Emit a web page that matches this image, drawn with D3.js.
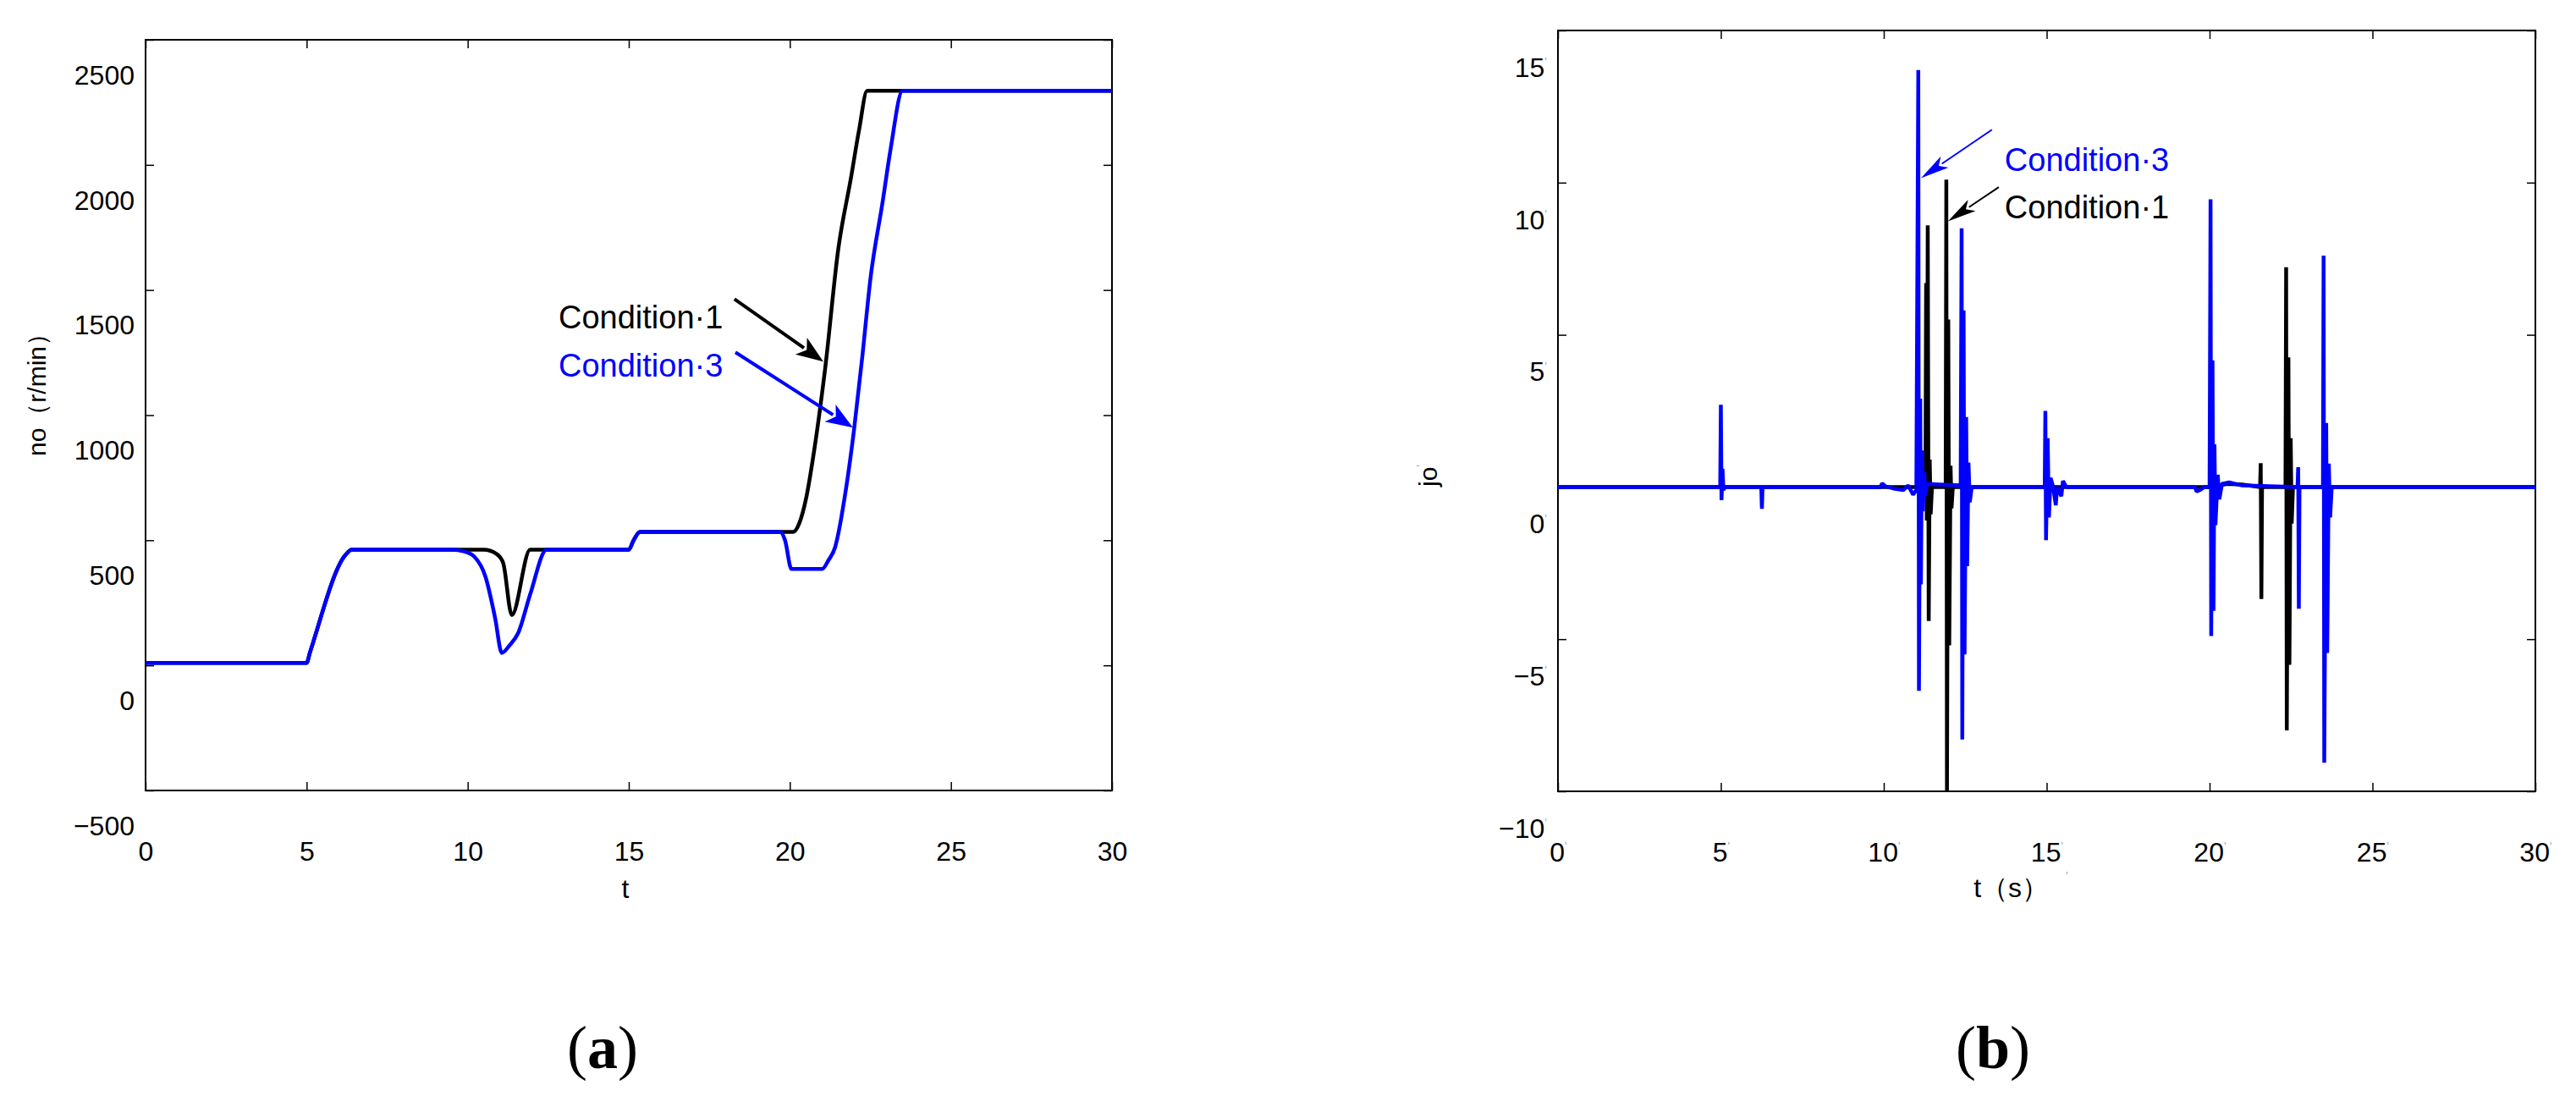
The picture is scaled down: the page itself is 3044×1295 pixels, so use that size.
<!DOCTYPE html>
<html>
<head>
<meta charset="utf-8">
<script src="https://cdn.jsdelivr.net/npm/d3@7"></script>
<style>
body { margin: 0; background: #fff; }
</style>
</head>
<body>
<script>
// ---- data (a): output speed no (r/min) vs t
var tA1 = [0, 5.0, 5.1, 6.2, 6.4, 10.5, 10.9, 11.1, 11.37, 11.94, 15.0, 15.15, 15.35, 20.1, 20.3, 20.5, 20.75, 21.1, 21.5, 21.9, 22.15, 22.4, 30];
var nA1 = [10, 10, 50, 440, 462, 462, 445, 410, 201, 462, 462, 500, 533, 533, 570, 664, 854, 1190, 1660, 1950, 2140, 2296, 2296];
var tA3 = [0, 5.0, 5.1, 6.2, 6.4, 9.5, 9.9, 10.2, 10.55, 10.85, 11.06, 11.3, 11.57, 11.94, 12.45, 15.0, 15.15, 15.35, 19.7, 19.85, 20.05, 21.0, 21.2, 21.4, 21.75, 22.0, 22.25, 22.5, 22.88, 23.13, 23.5, 30];
var nA3 = [10, 10, 50, 440, 462, 462, 455, 435, 355, 190, 50, 80, 130, 284, 462, 462, 500, 533, 533, 500, 385, 385, 420, 470, 711, 949, 1234, 1543, 1852, 2065, 2296, 2296];

// ---- data (b): jerk jo vs t
var tB1 = [0, 11.28, 11.3, 11.32, 11.35, 11.38, 11.41, 11.44, 11.48, 11.9, 11.92, 11.94, 11.98, 12.01, 12.05, 12.08, 12.12,
  20.2, 20.5, 21.0, 21.55, 21.57, 21.59, 21.61, 22.33, 22.35, 22.37, 22.42, 22.45, 22.49, 22.52, 22.56, 30];
var jB1 = [0, 0, 6.7, -1.1, 8.6, -4.4, 0.9, -0.9, 0, 0, 10.1, -10, 5.5, -5.2, 0.7, -0.7, 0,
  0, 0.1, 0.08, 0, 0.78, -3.68, 0, 0, 7.22, -8.0, 4.26, -5.84, 1.6, -1.2, 0, 0];
var tB3 = [0, 4.98, 5.0, 5.02, 5.05, 5.08, 5.12, 6.24, 6.26, 6.28, 9.9, 9.95, 10.05, 10.3, 10.6, 10.75, 10.9, 11.0,
  11.06, 11.08, 11.12, 11.14, 11.17, 11.2, 11.24, 11.28, 11.32, 12.36, 12.39, 12.41, 12.45, 12.48, 12.53, 12.56, 12.6, 12.64, 12.7,
  14.94, 14.96, 14.98, 15.03, 15.07, 15.12, 15.2, 15.28, 15.32, 15.45, 15.5, 15.6,
  19.55, 19.6, 19.7, 19.85, 20.0, 20.03, 20.05, 20.09, 20.12, 20.15, 20.18, 20.25, 20.3, 20.38, 20.6, 21.0,
  22.7, 22.72, 22.74, 22.76, 23.48, 23.5, 23.52, 23.58, 23.61, 23.66, 23.7, 23.75, 30];
var jB3 = [0, 0, 2.7, -0.43, 0.6, -0.1, 0, 0, -0.72, 0, 0, 0.12, 0.02, -0.05, -0.1, 0.05, -0.25, -0.1,
  13.7, -6.7, 2.9, -3.2, 1.2, -0.8, 0.5, -0.3, 0.1, 0.05, 8.5, -8.3, 5.8, -5.5, 2.3, -2.6, 0.8, -0.5, 0,
  0, 2.5, -1.75, 1.6, -1.0, 0.3, 0, -0.6, 0, -0.3, 0.2, 0,
  0, -0.15, -0.1, 0, 0, 9.45, -4.9, 4.16, -4.07, 1.4, -1.25, 0.4, -0.4, 0.1, 0.15, 0.05,
  0, 0.65, -4.0, 0, 0, 7.6, -9.06, 2.1, -5.45, 0.77, -1.0, 0, 0];

var xTicks = [0, 5, 10, 15, 20, 25, 30];
var yTicksA = [-500, 0, 500, 1000, 1500, 2000, 2500];
var yTicksB = [-10, -5, 0, 5, 10, 15];

// annotations: [label, colour, text t, text v, arrow from t, v, arrow to t, v]
var notesA = [
  ["Condition\u00b71", "#000", 12.82, 1346, 18.28, 1464, 21.04, 1214],
  ["Condition\u00b73", "#0000ff", 12.82, 1153, 18.31, 1251, 21.96, 950]
];
var notesB = [
  ["Condition\u00b73", "#0000ff", 13.71, 10.38, 13.32, 11.74, 11.14, 10.15],
  ["Condition\u00b71", "#000", 13.71, 8.82, 13.53, 9.85, 11.97, 8.73]
];

var SANS = "Liberation Sans, Arial, sans-serif";
var SERIF = "Liberation Serif, Times New Roman, serif";
var W = 3044, H = 1295;
var svg = d3.select("body").append("svg")
  .attr("width", W)
  .attr("height", H)
  .attr("font-family", SANS)
  .style("background-color", "#fff");

function zip(ts, vs) { return ts.map(function(t, i) { return [t, vs[i]]; }); }

function panel(box, yDom, yTicks, labShift, marks) {
  var x = d3.scaleLinear().domain([0, 30]).range([box.l, box.r]);
  var y = d3.scaleLinear().domain(yDom).range([box.b, box.t]);

  var ax = svg.append("g").attr("transform", "translate(0," + box.b + ")")
    .call(d3.axisBottom(x).tickValues(xTicks).tickSize(-10).tickPadding(60).tickFormat(d3.format("d")));
  svg.append("g").attr("transform", "translate(0," + box.t + ")")
    .call(d3.axisTop(x).tickValues(xTicks).tickSize(-10).tickFormat(""));
  var ay = svg.append("g").attr("transform", "translate(" + box.l + ",0)")
    .call(d3.axisLeft(y).tickValues(yTicks).tickSize(-10).tickPadding(13).tickFormat(function(d) { return d < 0 ? "\u2212" + (-d) : d; }));
  svg.append("g").attr("transform", "translate(" + box.r + ",0)")
    .call(d3.axisRight(y).tickValues(yTicks).tickSize(-10).tickFormat(""));

  svg.selectAll(".domain").remove();
  svg.selectAll(".tick line").attr("stroke", "#000").attr("stroke-width", 1.5);
  [ax, ay].forEach(function(a) {
    a.attr("font-family", SANS);
    a.selectAll("text").attr("font-size", 32).attr("fill", "#000");
  });
  // the original figure prints the y labels a bit below their ticks
  ay.selectAll("text").attr("y", labShift);
  if (marks) {
    [ax, ay].forEach(function(a) {
      a.selectAll("text").append("tspan").attr("font-size", 14).attr("fill", "#aaa").attr("dy", "-0.9em").text("'");
    });
  }

  svg.append("rect")
    .attr("x", box.l).attr("y", box.t)
    .attr("width", box.r - box.l).attr("height", box.b - box.t)
    .attr("fill", "none").attr("stroke", "#000").attr("stroke-width", 2);
  return { x: x, y: y };
}

function arrow(p0, p1, col, w, hl, hw) {
  var dx = p1[0] - p0[0], dy = p1[1] - p0[1], L = Math.sqrt(dx * dx + dy * dy);
  var ux = dx / L, uy = dy / L;
  var bx = p1[0] - ux * hl, by = p1[1] - uy * hl;
  svg.append("line").attr("x1", p0[0]).attr("y1", p0[1]).attr("x2", bx + ux * 4).attr("y2", by + uy * 4)
    .attr("stroke", col).attr("stroke-width", w);
  svg.append("path")
    .attr("d", "M" + p1[0] + "," + p1[1] + "L" + (bx - uy * hw / 2) + "," + (by + ux * hw / 2) +
      "L" + (bx + ux * hl * 0.25) + "," + (by + uy * hl * 0.25) +
      "L" + (bx + uy * hw / 2) + "," + (by - ux * hw / 2) + "Z")
    .attr("fill", col);
}

// ---------- (a)
var A = panel({ l: 172, r: 1314, t: 47, b: 934 }, [-500, 2500], yTicksA, 42, false);
var lineA = d3.line().x(function(d) { return A.x(d[0]); }).y(function(d) { return A.y(d[1]); }).curve(d3.curveMonotoneX);
svg.append("path").datum(zip(tA1, nA1)).attr("d", lineA).attr("fill", "none").attr("stroke", "#000").attr("stroke-width", 4.5);
svg.append("path").datum(zip(tA3, nA3)).attr("d", lineA).attr("fill", "none").attr("stroke", "#0000ff").attr("stroke-width", 4.5);
notesA.forEach(function(n) {
  svg.append("text").attr("x", A.x(n[2])).attr("y", A.y(n[3])).attr("font-size", 38).attr("fill", n[1]).text(n[0]);
  arrow([A.x(n[4]), A.y(n[5])], [A.x(n[6]), A.y(n[7])], n[1], 4, 32, 24);
});
svg.append("text").attr("x", 739).attr("y", 1061).attr("text-anchor", "middle").attr("font-size", 32).text("t");
svg.append("text").attr("transform", "translate(54,459) rotate(-90)").attr("text-anchor", "middle")
  .attr("font-size", 30).text("no\uff08r/min\uff09");

// ---------- (b)
var B = panel({ l: 1841, r: 2996, t: 36, b: 935 }, [-10, 15], yTicksB, 44, true);
var lineB = d3.line().x(function(d) { return B.x(d[0]); }).y(function(d) { return B.y(d[1]); });
svg.append("path").datum(zip(tB1, jB1)).attr("d", lineB).attr("fill", "none").attr("stroke", "#000").attr("stroke-width", 4.5).attr("stroke-linejoin", "bevel");
svg.append("path").datum(zip(tB3, jB3)).attr("d", lineB).attr("fill", "none").attr("stroke", "#0000ff").attr("stroke-width", 4.5).attr("stroke-linejoin", "bevel");
notesB.forEach(function(n) {
  svg.append("text").attr("x", B.x(n[2])).attr("y", B.y(n[3])).attr("font-size", 38).attr("fill", n[1]).text(n[0]);
  arrow([B.x(n[4]), B.y(n[5])], [B.x(n[6]), B.y(n[7])], n[1], 2, 34, 16);
});
var xl = svg.append("text").attr("x", 2388).attr("y", 1060).attr("text-anchor", "middle").attr("font-size", 32).text("t\uff08s\uff09");
xl.append("tspan").attr("font-size", 14).attr("fill", "#aaa").attr("dx", 20).attr("dy", "-1.4em").text("'");
svg.append("text").attr("transform", "translate(1698,562) rotate(-90)").attr("text-anchor", "middle")
  .attr("font-size", 30).text("jo").append("tspan").attr("font-size", 14).attr("fill", "#aaa").attr("dy", "-1em").text("'");

// ---------- sub captions
[["a", 712], ["b", 2355]].forEach(function(c) {
  var t = svg.append("text").attr("x", c[1]).attr("y", 1262).attr("text-anchor", "middle")
    .attr("font-family", SERIF).attr("font-size", 72);
  t.append("tspan").text("(");
  t.append("tspan").attr("font-weight", "bold").text(c[0]);
  t.append("tspan").text(")");
});
</script>
</body>
</html>
